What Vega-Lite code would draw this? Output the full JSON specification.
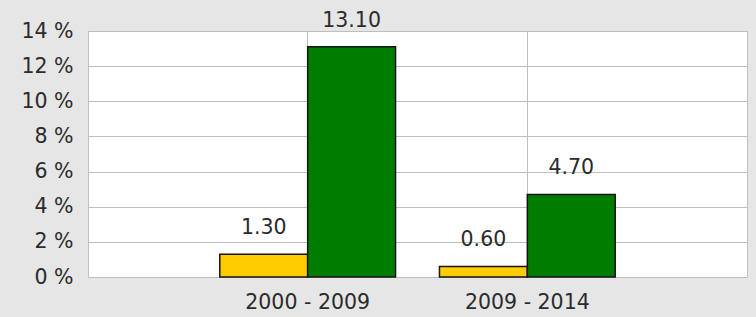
{
  "$schema": "https://vega.github.io/schema/vega-lite/v6.json",
  "width": 659,
  "height": 246,
  "autosize": {"type": "none"},
  "padding": {"left": 88, "top": 31, "right": 9, "bottom": 40},
  "background": "#e6e6e6",
  "config": {
    "view": {"fill": "#ffffff", "stroke": "#c0c0c0", "strokeWidth": 1},
    "font": "DejaVu Sans",
    "axis": {"gridColor": "#bebebe", "gridWidth": 1, "gridOpacity": 1, "domain": false, "ticks": false, "labelFont": "DejaVu Sans", "labelFontSize": 20.5, "labelColor": "#2b2b2b", "title": null}
  },
  "data": {
    "values": [
      {"period": "2000 - 2009", "series": "Serie 1", "value": 1.30},
      {"period": "2000 - 2009", "series": "Serie 2", "value": 13.10},
      {"period": "2009 - 2014", "series": "Serie 1", "value": 0.60},
      {"period": "2009 - 2014", "series": "Serie 2", "value": 4.70}
    ]
  },
  "encoding": {
    "x": {
      "field": "period", "type": "nominal",
      "scale": {"domain": ["2000 - 2009", "2009 - 2014"], "paddingInner": 0, "paddingOuter": 0.5},
      "axis": {"labelAngle": 0, "grid": true, "bandPosition": 0.5, "labelPadding": 15}
    },
    "xOffset": {
      "field": "series", "type": "nominal",
      "scale": {"domain": ["Serie 1", "Serie 2"], "paddingInner": 0, "paddingOuter": 0.25}
    },
    "y": {
      "field": "value", "type": "quantitative",
      "scale": {"domain": [0, 14], "nice": false},
      "axis": {"values": [0, 2, 4, 6, 8, 10, 12, 14], "labelExpr": "datum.value + ' %'", "grid": true, "labelPadding": 15}
    }
  },
  "layer": [
    {
      "mark": {"type": "bar", "stroke": "#141414", "strokeWidth": 1.5},
      "encoding": {
        "color": {
          "field": "series", "type": "nominal",
          "scale": {"domain": ["Serie 1", "Serie 2"], "range": ["#ffcc00", "#007d00"]},
          "legend": null
        }
      }
    },
    {
      "mark": {"type": "text", "baseline": "alphabetic", "dy": -20, "fontSize": 20.5, "color": "#2b2b2b"},
      "encoding": {
        "text": {"field": "value", "type": "quantitative", "format": ".2f"}
      }
    }
  ]
}
